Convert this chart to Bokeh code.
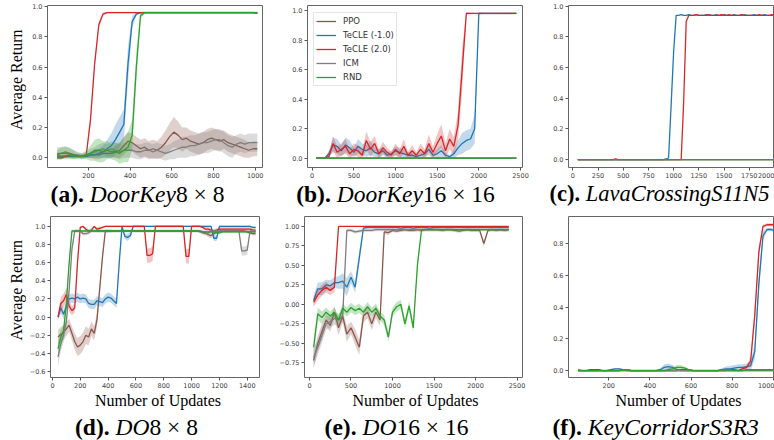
from bokeh.plotting import figure
from bokeh.layouts import row, column
from bokeh.models import Range1d, FixedTicker, CustomJSTickFormatter, Legend, LegendItem
from bokeh.core.properties import value
from bokeh.embed import file_html
from bokeh.resources import INLINE

SERIES = ["PPO", "TeCLE (-1.0)", "TeCLE (2.0)", "ICM", "RND"]
COLORS = ["#8c564b", "#1f77b4", "#d62728", "#7f7f7f", "#2ca02c"]

# ---------------- (a) DoorKey 8x8 ----------------
A_X = list(range(50, 1011, 20))
A_PPO = [0.01, 0.01, 0.01, 0.01, 0.01, 0.01, 0.01, 0.01, 0.02, 0.02,
         0.02, 0.03, 0.03, 0.03, 0.04, 0.05, 0.08, 0.11, 0.10, 0.08,
         0.06, 0.07, 0.05, 0.06, 0.05, 0.07, 0.10, 0.14, 0.17, 0.15,
         0.12, 0.13, 0.11, 0.10, 0.09, 0.10, 0.12, 0.13, 0.12, 0.11,
         0.12, 0.10, 0.09, 0.08, 0.07, 0.06, 0.05, 0.06, 0.06]
A_PPO_SD = [0.01, 0.01, 0.01, 0.01, 0.01, 0.01, 0.01, 0.01, 0.02, 0.03,
            0.03, 0.03, 0.03, 0.03, 0.04, 0.05, 0.06, 0.06, 0.06, 0.06,
            0.06, 0.06, 0.06, 0.06, 0.06, 0.07, 0.08, 0.09, 0.10, 0.09,
            0.08, 0.07, 0.07, 0.07, 0.07, 0.07, 0.07, 0.07, 0.07, 0.07,
            0.06, 0.06, 0.06, 0.06, 0.06, 0.06, 0.05, 0.05, 0.05]
A_TM1 = [0.01, 0.01, 0.01, 0.01, 0.01, 0.01, 0.01, 0.01, 0.02, 0.02,
         0.03, 0.04, 0.06, 0.08, 0.12, 0.17, 0.22, 0.62, 0.90, 0.95,
         0.96, 0.96, 0.96, 0.96, 0.96, 0.96, 0.96, 0.96, 0.96, 0.96,
         0.96, 0.96, 0.96, 0.96, 0.96, 0.96, 0.96, 0.96, 0.96, 0.96,
         0.96, 0.96, 0.96, 0.96, 0.96, 0.96, 0.96, 0.96, 0.955]
A_TM1_SD = [0.01, 0.01, 0.01, 0.01, 0.01, 0.01, 0.01, 0.01, 0.02, 0.02,
            0.03, 0.04, 0.06, 0.08, 0.10, 0.10, 0.10, 0.12, 0.04, 0.01,
            0.005, 0.005, 0.005, 0.005, 0.005, 0.005, 0.005, 0.005, 0.005, 0.005,
            0.005, 0.005, 0.005, 0.005, 0.005, 0.005, 0.005, 0.005, 0.005, 0.005,
            0.005, 0.005, 0.005, 0.005, 0.005, 0.005, 0.005, 0.005, 0.005]
A_T2 = [0.00, 0.00, 0.01, 0.02, 0.02, 0.01, 0.01, 0.02, 0.25, 0.62,
        0.88, 0.95, 0.96, 0.96, 0.96, 0.96, 0.96, 0.96, 0.96, 0.96,
        0.96, 0.96, 0.96, 0.96, 0.96, 0.96, 0.96, 0.96, 0.96, 0.96,
        0.96, 0.96, 0.96, 0.96, 0.96, 0.96, 0.96, 0.96, 0.96, 0.96,
        0.96, 0.96, 0.96, 0.96, 0.96, 0.96, 0.96, 0.96, 0.96]
A_T2_SD = [0.01, 0.01, 0.01, 0.01, 0.01, 0.01, 0.01, 0.01, 0.03, 0.03,
           0.02, 0.01, 0.005, 0.005, 0.005, 0.005, 0.005, 0.005, 0.005, 0.005,
           0.005, 0.005, 0.005, 0.005, 0.005, 0.005, 0.005, 0.005, 0.005, 0.005,
           0.005, 0.005, 0.005, 0.005, 0.005, 0.005, 0.005, 0.005, 0.005, 0.005,
           0.005, 0.005, 0.005, 0.005, 0.005, 0.005, 0.005, 0.005, 0.005]
A_ICM = [0.03, 0.03, 0.04, 0.03, 0.02, 0.02, 0.01, 0.02, 0.03, 0.04,
         0.05, 0.06, 0.05, 0.06, 0.05, 0.04, 0.05, 0.05, 0.05, 0.04,
         0.04, 0.05, 0.05, 0.04, 0.05, 0.04, 0.03, 0.04, 0.05, 0.06,
         0.07, 0.07, 0.08, 0.08, 0.09, 0.10, 0.10, 0.11, 0.12, 0.12,
         0.10, 0.08, 0.07, 0.09, 0.10, 0.09, 0.10, 0.10, 0.10]
A_ICM_SD = [0.04, 0.04, 0.04, 0.03, 0.03, 0.02, 0.02, 0.02, 0.03, 0.03,
            0.04, 0.04, 0.04, 0.05, 0.05, 0.05, 0.05, 0.05, 0.05, 0.05,
            0.05, 0.05, 0.05, 0.05, 0.05, 0.05, 0.05, 0.05, 0.06, 0.06,
            0.07, 0.07, 0.07, 0.07, 0.07, 0.07, 0.07, 0.07, 0.07, 0.07,
            0.07, 0.07, 0.07, 0.06, 0.06, 0.06, 0.06, 0.06, 0.06]
A_RND = [0.02, 0.03, 0.03, 0.03, 0.02, 0.01, 0.01, 0.02, 0.03, 0.05,
         0.05, 0.04, 0.05, 0.04, 0.04, 0.03, 0.05, 0.07, 0.15, 0.60,
         0.94, 0.96, 0.96, 0.96, 0.96, 0.96, 0.96, 0.96, 0.96, 0.96,
         0.96, 0.96, 0.96, 0.96, 0.96, 0.96, 0.96, 0.96, 0.96, 0.96,
         0.96, 0.96, 0.96, 0.96, 0.96, 0.96, 0.96, 0.96, 0.96]
A_RND_SD = [0.03, 0.04, 0.04, 0.04, 0.03, 0.02, 0.02, 0.03, 0.05, 0.07,
            0.08, 0.07, 0.06, 0.05, 0.06, 0.07, 0.08, 0.10, 0.10, 0.10,
            0.02, 0.005, 0.005, 0.005, 0.005, 0.005, 0.005, 0.005, 0.005, 0.005,
            0.005, 0.005, 0.005, 0.005, 0.005, 0.005, 0.005, 0.005, 0.005, 0.005,
            0.005, 0.005, 0.005, 0.005, 0.005, 0.005, 0.005, 0.005, 0.005]
A_XTICKS = [200, 400, 600, 800, 1000]
A_YTICKS = [0.0, 0.2, 0.4, 0.6, 0.8, 1.0]

# ---------------- (b) DoorKey 16x16 ----------------
B_X = list(range(50, 2451, 50))
B_PPO = [0, 0, 0, 0, 0, 0, 0, 0, 0, 0,
         0, 0, 0, 0, 0, 0, 0, 0, 0, 0,
         0, 0, 0, 0, 0, 0, 0, 0, 0, 0,
         0, 0, 0, 0, 0, 0, 0, 0, 0, 0,
         0, 0, 0, 0, 0, 0, 0, 0, 0]
B_TM1 = [0.00, 0.00, 0.00, 0.03, 0.09, 0.08, 0.05, 0.09, 0.07, 0.04,
         0.08, 0.06, 0.05, 0.07, 0.04, 0.03, 0.05, 0.02, 0.03, 0.05,
         0.04, 0.03, 0.02, 0.02, 0.01, 0.02, 0.03, 0.06, 0.02, 0.03,
         0.05, 0.02, 0.01, 0.03, 0.07, 0.10, 0.12, 0.13, 0.20, 0.98,
         0.98, 0.98, 0.98, 0.98, 0.98, 0.98, 0.98, 0.98, 0.98]
B_TM1_SD = [0.00, 0.00, 0.00, 0.02, 0.05, 0.05, 0.04, 0.05, 0.05, 0.03,
            0.05, 0.04, 0.04, 0.05, 0.03, 0.03, 0.03, 0.02, 0.02, 0.03,
            0.03, 0.03, 0.02, 0.02, 0.01, 0.02, 0.02, 0.04, 0.02, 0.03,
            0.04, 0.02, 0.01, 0.03, 0.05, 0.07, 0.07, 0.07, 0.10, 0.01,
            0.005, 0.005, 0.005, 0.005, 0.005, 0.005, 0.005, 0.005, 0.005]
B_T2 = [0.00, 0.00, 0.00, 0.01, 0.10, 0.04, 0.06, 0.08, 0.03, 0.06,
        0.05, 0.02, 0.12, 0.06, 0.10, 0.03, 0.07, 0.04, 0.02, 0.06,
        0.03, 0.08, 0.02, 0.05, 0.02, 0.06, 0.03, 0.10, 0.04, 0.10,
        0.15, 0.05, 0.13, 0.08, 0.22, 0.60, 0.98, 0.98, 0.98, 0.98,
        0.98, 0.98, 0.98, 0.98, 0.98, 0.98, 0.98, 0.98, 0.98]
B_T2_SD = [0.00, 0.00, 0.00, 0.01, 0.05, 0.04, 0.04, 0.05, 0.03, 0.04,
           0.04, 0.03, 0.06, 0.05, 0.05, 0.03, 0.04, 0.03, 0.02, 0.04,
           0.03, 0.05, 0.02, 0.04, 0.02, 0.04, 0.03, 0.06, 0.04, 0.06,
           0.08, 0.05, 0.07, 0.06, 0.10, 0.15, 0.01, 0.005, 0.005, 0.005,
           0.005, 0.005, 0.005, 0.005, 0.005, 0.005, 0.005, 0.005, 0.005]
B_ICM = [0, 0, 0, 0, 0, 0, 0, 0, 0, 0,
         0, 0, 0, 0, 0, 0, 0, 0, 0, 0,
         0, 0, 0, 0, 0, 0, 0, 0, 0, 0,
         0, 0, 0, 0, 0, 0, 0, 0, 0, 0,
         0, 0, 0, 0, 0, 0, 0, 0, 0]
B_RND = [0, 0, 0, 0, 0, 0, 0, 0, 0, 0,
         0, 0, 0, 0, 0, 0, 0, 0, 0, 0,
         0, 0, 0, 0, 0, 0, 0, 0, 0, 0,
         0, 0, 0, 0, 0, 0, 0, 0, 0, 0,
         0, 0, 0, 0, 0, 0, 0, 0, 0]
B_XTICKS = [0, 500, 1000, 1500, 2000, 2500]
B_YTICKS = [0.0, 0.2, 0.4, 0.6, 0.8, 1.0]

# ---------------- (c) LavaCrossing S11N5 ----------------
C_X = list(range(50, 2051, 25))
C_PPO = [0, 0, 0, 0, 0, 0, 0, 0, 0, 0,
         0, 0, 0, 0, 0, 0, 0, 0, 0, 0,
         0, 0, 0, 0, 0, 0, 0, 0, 0, 0,
         0, 0, 0, 0, 0, 0, 0, 0, 0, 0,
         0, 0, 0, 0, 0, 0, 0, 0, 0, 0,
         0, 0, 0, 0, 0, 0, 0, 0, 0, 0,
         0, 0, 0, 0, 0, 0, 0, 0, 0, 0,
         0, 0, 0, 0, 0, 0, 0, 0, 0, 0,
         0]
C_TM1 = [0, 0, 0, 0, 0, 0, 0, 0, 0, 0,
         0, 0, 0, 0, 0, 0, 0, 0, 0, 0,
         0, 0, 0, 0, 0, 0, 0, 0, 0, 0,
         0, 0, 0, 0, 0, 0.005, 0.01, 0.35, 0.70, 0.94,
         0.94, 0.945, 0.94, 0.94, 0.945, 0.94, 0.94, 0.945, 0.94, 0.94,
         0.94, 0.945, 0.94, 0.94, 0.94, 0.945, 0.94, 0.94, 0.945, 0.94,
         0.94, 0.94, 0.945, 0.94, 0.94, 0.94, 0.945, 0.94, 0.94, 0.94,
         0.945, 0.94, 0.94, 0.94, 0.945, 0.94, 0.94, 0.94, 0.94, 0.94,
         0.94]
C_T2 = [0, 0, 0, 0, 0, 0, 0, 0, 0, 0,
        0, 0, 0, 0, 0, 0.005, 0, 0, 0, 0,
        0, 0, 0, 0, 0, 0, 0, 0, 0, 0,
        0, 0, 0, 0, 0, 0, 0, 0, 0, 0,
        0, 0, 0.38, 0.90, 0.94, 0.94, 0.94, 0.945, 0.94, 0.94,
        0.94, 0.94, 0.945, 0.94, 0.94, 0.94, 0.94, 0.945, 0.94, 0.94,
        0.945, 0.94, 0.94, 0.94, 0.94, 0.945, 0.94, 0.94, 0.94, 0.94,
        0.94, 0.94, 0.945, 0.94, 0.94, 0.94, 0.94, 0.945, 0.94, 0.94,
        0.94]
C_ICM = [0, 0, 0, 0, 0, 0, 0, 0, 0, 0,
         0, 0, 0, 0, 0, 0, 0, 0, 0, 0,
         0, 0, 0, 0, 0, 0, 0, 0, 0, 0,
         0, 0, 0, 0, 0, 0, 0, 0, 0, 0,
         0, 0, 0, 0, 0, 0, 0, 0, 0, 0,
         0, 0, 0, 0, 0, 0, 0, 0, 0, 0,
         0, 0, 0, 0, 0, 0, 0, 0, 0, 0,
         0, 0, 0, 0, 0, 0, 0, 0, 0, 0,
         0]
C_RND = [0, 0, 0, 0, 0, 0, 0, 0, 0, 0,
         0, 0, 0, 0, 0, 0, 0, 0, 0, 0,
         0, 0, 0, 0, 0, 0, 0, 0, 0, 0,
         0, 0, 0, 0, 0, 0, 0, 0, 0, 0,
         0, 0, 0, 0, 0, 0, 0, 0, 0, 0,
         0, 0, 0, 0, 0, 0, 0, 0, 0, 0,
         0, 0, 0, 0, 0, 0, 0, 0, 0, 0,
         0, 0, 0, 0, 0, 0, 0, 0, 0, 0,
         0]
C_XTICKS = [0, 250, 500, 750, 1000, 1250, 1500, 1750, 2000]
C_YTICKS = [0.0, 0.2, 0.4, 0.6, 0.8, 1.0]

# ---------------- (d) DO 8x8 ----------------
D_X = list(range(40, 1461, 20))
D_PPO = [-0.22, -0.19, -0.17, -0.13, -0.09, -0.18, -0.27, -0.33, -0.31, -0.27,
         -0.20, -0.22, -0.13, -0.18, -0.03, 0.32, 0.67, 0.95, 0.95, 0.95,
         0.95, 0.95, 0.95, 0.95, 0.95, 0.95, 0.95, 0.95, 0.95, 0.95,
         0.95, 0.95, 0.95, 0.95, 0.95, 0.95, 0.95, 0.95, 0.95, 0.95,
         0.95, 0.95, 0.95, 0.95, 0.95, 0.95, 0.95, 0.95, 0.95, 0.95,
         0.95, 0.95, 0.94, 0.93, 0.91, 0.90, 0.92, 0.94, 0.95, 0.95,
         0.95, 0.95, 0.95, 0.95, 0.95, 0.95, 0.95, 0.95, 0.94, 0.93,
         0.92, 0.92]
D_PPO_SD = [0.08, 0.08, 0.08, 0.08, 0.07, 0.08, 0.09, 0.10, 0.10, 0.10,
            0.10, 0.09, 0.08, 0.08, 0.08, 0.06, 0.05, 0.02, 0.015, 0.015,
            0.015, 0.015, 0.015, 0.015, 0.015, 0.015, 0.015, 0.015, 0.015, 0.015,
            0.015, 0.015, 0.015, 0.015, 0.015, 0.015, 0.015, 0.015, 0.015, 0.015,
            0.015, 0.015, 0.015, 0.015, 0.015, 0.015, 0.015, 0.015, 0.015, 0.015,
            0.015, 0.015, 0.02, 0.02, 0.03, 0.03, 0.03, 0.02, 0.015, 0.015,
            0.015, 0.015, 0.015, 0.015, 0.015, 0.015, 0.015, 0.015, 0.02, 0.02,
            0.02, 0.02]
D_TM1 = [0.00, 0.10, 0.03, 0.12, 0.20, 0.21, 0.20, 0.22, 0.20, 0.21,
         0.20, 0.15, 0.14, 0.14, 0.18, 0.17, 0.16, 0.20, 0.22, 0.21,
         0.18, 0.15, 0.60, 1.00, 0.89, 0.88, 0.90, 1.00, 1.00, 1.00,
         1.00, 1.00, 1.00, 1.00, 1.00, 1.00, 1.00, 1.00, 1.00, 1.00,
         1.00, 1.00, 1.00, 1.00, 1.00, 1.00, 1.00, 1.00, 1.00, 1.00,
         1.00, 1.00, 1.00, 1.00, 1.00, 1.00, 0.87, 0.87, 1.00, 1.00,
         1.00, 1.00, 1.00, 1.00, 1.00, 1.00, 1.00, 1.00, 1.00, 1.00,
         0.99, 0.99]
D_TM1_SD = [0.03, 0.06, 0.05, 0.05, 0.05, 0.05, 0.05, 0.05, 0.05, 0.05,
            0.05, 0.05, 0.05, 0.05, 0.05, 0.05, 0.05, 0.05, 0.05, 0.05,
            0.05, 0.05, 0.05, 0.01, 0.03, 0.04, 0.03, 0.01, 0.01, 0.01,
            0.01, 0.01, 0.01, 0.01, 0.01, 0.01, 0.01, 0.01, 0.01, 0.01,
            0.01, 0.01, 0.01, 0.01, 0.01, 0.01, 0.01, 0.01, 0.01, 0.01,
            0.01, 0.01, 0.01, 0.01, 0.01, 0.01, 0.03, 0.03, 0.01, 0.01,
            0.01, 0.01, 0.01, 0.01, 0.01, 0.01, 0.01, 0.01, 0.01, 0.01,
            0.01, 0.01]
D_T2 = [0.00, 0.15, 0.18, 0.25, 0.12, 0.07, 0.10, 0.60, 0.99, 1.00,
        0.97, 0.95, 0.96, 1.00, 0.97, 0.98, 0.99, 1.00, 1.00, 1.00,
        1.00, 1.00, 1.00, 1.00, 1.00, 1.00, 1.00, 1.00, 1.00, 1.00,
        1.00, 1.00, 0.68, 0.68, 0.70, 1.00, 1.00, 1.00, 1.00, 1.00,
        1.00, 1.00, 1.00, 1.00, 1.00, 1.00, 0.67, 0.67, 1.00, 1.00,
        1.00, 1.00, 0.99, 0.97, 0.97, 0.96, 0.95, 0.96, 0.97, 0.97,
        0.97, 0.97, 0.97, 0.97, 0.97, 0.97, 0.97, 0.97, 0.97, 0.97,
        0.96, 0.96]
D_T2_SD = [0.03, 0.07, 0.08, 0.07, 0.06, 0.05, 0.05, 0.05, 0.01, 0.01,
           0.02, 0.02, 0.02, 0.01, 0.02, 0.02, 0.01, 0.01, 0.01, 0.01,
           0.01, 0.01, 0.01, 0.01, 0.01, 0.01, 0.01, 0.01, 0.01, 0.01,
           0.01, 0.01, 0.08, 0.08, 0.08, 0.01, 0.01, 0.01, 0.01, 0.01,
           0.01, 0.01, 0.01, 0.01, 0.01, 0.01, 0.08, 0.08, 0.01, 0.01,
           0.01, 0.01, 0.01, 0.02, 0.02, 0.02, 0.02, 0.02, 0.02, 0.02,
           0.02, 0.02, 0.02, 0.02, 0.02, 0.02, 0.02, 0.02, 0.02, 0.02,
           0.02, 0.03]
D_ICM = [-0.44, -0.30, -0.20, -0.05, 0.30, 0.75, 0.95, 0.95, 0.95, 0.92,
         0.92, 0.93, 0.95, 0.95, 0.95, 0.95, 0.95, 0.95, 0.95, 0.95,
         0.95, 0.95, 0.95, 0.95, 0.95, 0.95, 0.95, 0.95, 0.95, 0.95,
         0.95, 0.95, 0.95, 0.95, 0.95, 0.95, 0.95, 0.95, 0.95, 0.95,
         0.95, 0.95, 0.95, 0.95, 0.95, 0.95, 0.95, 0.95, 0.95, 0.95,
         0.95, 0.94, 0.93, 0.92, 0.93, 0.95, 0.95, 0.95, 0.95, 0.95,
         0.95, 0.95, 0.95, 0.95, 0.95, 0.95, 0.73, 0.73, 0.74, 0.95,
         0.95, 0.95]
D_ICM_SD = [0.10, 0.08, 0.08, 0.06, 0.05, 0.04, 0.02, 0.02, 0.02, 0.02,
            0.02, 0.02, 0.02, 0.02, 0.02, 0.02, 0.02, 0.02, 0.02, 0.02,
            0.015, 0.015, 0.015, 0.015, 0.015, 0.015, 0.015, 0.015, 0.015, 0.015,
            0.015, 0.015, 0.015, 0.015, 0.015, 0.015, 0.015, 0.015, 0.015, 0.015,
            0.015, 0.015, 0.015, 0.015, 0.015, 0.015, 0.015, 0.015, 0.015, 0.015,
            0.015, 0.015, 0.02, 0.02, 0.02, 0.015, 0.015, 0.015, 0.015, 0.015,
            0.015, 0.015, 0.015, 0.015, 0.015, 0.015, 0.05, 0.05, 0.05, 0.015,
            0.015, 0.015]
D_RND = [-0.35, -0.22, -0.15, 0.15, 0.60, 0.95, 0.95, 0.95, 0.95, 0.95,
         0.95, 0.95, 0.95, 0.95, 0.95, 0.95, 0.95, 0.95, 0.95, 0.95,
         0.95, 0.95, 0.95, 0.95, 0.95, 0.95, 0.95, 0.95, 0.95, 0.95,
         0.95, 0.95, 0.95, 0.95, 0.95, 0.95, 0.95, 0.95, 0.95, 0.95,
         0.95, 0.95, 0.95, 0.95, 0.95, 0.95, 0.95, 0.95, 0.95, 0.95,
         0.95, 0.95, 0.94, 0.94, 0.94, 0.94, 0.94, 0.93, 0.93, 0.94,
         0.94, 0.94, 0.94, 0.94, 0.94, 0.94, 0.94, 0.94, 0.94, 0.94,
         0.94, 0.94]
D_RND_SD = [0.08, 0.08, 0.06, 0.05, 0.04, 0.02, 0.01, 0.01, 0.01, 0.01,
            0.01, 0.01, 0.01, 0.01, 0.01, 0.01, 0.01, 0.01, 0.01, 0.01,
            0.01, 0.01, 0.01, 0.01, 0.01, 0.01, 0.01, 0.01, 0.01, 0.01,
            0.01, 0.01, 0.01, 0.01, 0.01, 0.01, 0.01, 0.01, 0.01, 0.01,
            0.01, 0.01, 0.01, 0.01, 0.01, 0.01, 0.01, 0.01, 0.01, 0.01,
            0.01, 0.01, 0.01, 0.01, 0.01, 0.01, 0.01, 0.01, 0.01, 0.01,
            0.01, 0.01, 0.01, 0.01, 0.01, 0.01, 0.01, 0.01, 0.01, 0.01,
            0.01, 0.01]
D_XTICKS = [0, 200, 400, 600, 800, 1000, 1200, 1400]
D_YTICKS = [-0.6, -0.4, -0.2, 0.0, 0.2, 0.4, 0.6, 0.8, 1.0]

# ---------------- (e) DO 16x16 ----------------
E_X = list(range(50, 2401, 50))
E_PPO = [-0.72, -0.50, -0.35, -0.20, -0.27, -0.10, -0.30, -0.15, -0.38, -0.30,
         -0.42, -0.55, -0.15, -0.10, -0.25, -0.10, -0.20, 0.93, 0.92, 0.95,
         0.94, 0.95, 0.96, 0.95, 0.95, 0.96, 0.95, 0.96, 0.96, 0.96,
         0.96, 0.95, 0.96, 0.96, 0.95, 0.94, 0.95, 0.96, 0.95, 0.95,
         0.95, 0.78, 0.95, 0.96, 0.95, 0.96, 0.95, 0.96]
E_PPO_SD = [0.10, 0.10, 0.10, 0.08, 0.08, 0.08, 0.10, 0.08, 0.10, 0.08,
            0.10, 0.10, 0.08, 0.08, 0.08, 0.08, 0.08, 0.03, 0.03, 0.02,
            0.02, 0.02, 0.02, 0.02, 0.02, 0.02, 0.02, 0.02, 0.02, 0.02,
            0.02, 0.02, 0.02, 0.02, 0.02, 0.02, 0.02, 0.02, 0.02, 0.02,
            0.02, 0.04, 0.02, 0.02, 0.02, 0.02, 0.02, 0.02]
E_TM1 = [0.05, 0.20, 0.20, 0.25, 0.24, 0.28, 0.28, 0.30, 0.22, 0.35,
         0.22, 0.60, 0.98, 0.99, 0.99, 0.99, 0.99, 0.99, 0.99, 0.99,
         0.99, 0.98, 0.99, 0.99, 0.98, 0.99, 0.99, 0.99, 0.98, 0.99,
         0.99, 0.99, 0.99, 0.99, 0.99, 0.99, 0.99, 0.99, 0.99, 0.99,
         0.99, 0.99, 0.99, 0.99, 0.99, 0.99, 0.99, 0.99]
E_TM1_SD = [0.06, 0.08, 0.08, 0.07, 0.07, 0.07, 0.08, 0.10, 0.12, 0.08,
            0.07, 0.08, 0.02, 0.02, 0.02, 0.02, 0.02, 0.02, 0.02, 0.02,
            0.015, 0.015, 0.015, 0.015, 0.015, 0.015, 0.015, 0.015, 0.015, 0.015,
            0.015, 0.015, 0.015, 0.015, 0.015, 0.015, 0.015, 0.015, 0.015, 0.015,
            0.015, 0.015, 0.015, 0.015, 0.015, 0.015, 0.015, 0.015]
E_T2 = [0.03, 0.12, 0.18, 0.22, 0.18, 0.22, 1.00, 1.00, 1.00, 1.00,
        1.00, 1.00, 1.00, 1.00, 1.00, 1.00, 1.00, 1.00, 1.00, 1.00,
        1.00, 1.00, 1.00, 1.00, 1.00, 1.00, 1.00, 1.00, 1.00, 1.00,
        1.00, 1.00, 1.00, 1.00, 1.00, 1.00, 1.00, 1.00, 1.00, 1.00,
        1.00, 1.00, 1.00, 1.00, 1.00, 1.00, 1.00, 1.00]
E_T2_SD = [0.06, 0.07, 0.07, 0.07, 0.06, 0.06, 0.005, 0.005, 0.005, 0.005,
           0.005, 0.005, 0.005, 0.005, 0.005, 0.005, 0.005, 0.005, 0.005, 0.005,
           0.005, 0.005, 0.005, 0.005, 0.005, 0.005, 0.005, 0.005, 0.005, 0.005,
           0.005, 0.005, 0.005, 0.005, 0.005, 0.005, 0.005, 0.005, 0.005, 0.005,
           0.005, 0.005, 0.005, 0.005, 0.005, 0.005, 0.005, 0.005]
E_ICM = [-0.68, -0.55, -0.40, -0.25, -0.22, -0.18, -0.20, -0.15, 0.95, 0.95,
         0.93, 0.94, 0.95, 0.95, 0.95, 0.96, 0.96, 0.96, 0.96, 0.96,
         0.96, 0.96, 0.96, 0.96, 0.96, 0.96, 0.96, 0.96, 0.96, 0.96,
         0.96, 0.96, 0.96, 0.96, 0.96, 0.96, 0.96, 0.96, 0.96, 0.96,
         0.96, 0.96, 0.96, 0.96, 0.96, 0.96, 0.96, 0.96]
E_ICM_SD = [0.12, 0.10, 0.10, 0.08, 0.08, 0.08, 0.08, 0.08, 0.02, 0.02,
            0.02, 0.02, 0.02, 0.02, 0.02, 0.02, 0.02, 0.02, 0.02, 0.02,
            0.02, 0.02, 0.02, 0.02, 0.02, 0.02, 0.02, 0.02, 0.02, 0.02,
            0.02, 0.02, 0.02, 0.02, 0.02, 0.02, 0.02, 0.02, 0.02, 0.02,
            0.02, 0.02, 0.02, 0.02, 0.02, 0.02, 0.02, 0.02]
E_RND = [-0.55, -0.12, -0.17, -0.10, -0.15, -0.10, -0.20, -0.05, -0.10, -0.04,
         -0.08, -0.05, -0.10, -0.03, -0.10, -0.05, -0.15, -0.20, -0.42, -0.10,
         -0.03, 0.00, -0.25, -0.02, -0.30, 0.50, 0.96, 0.96, 0.96, 0.96,
         0.96, 0.96, 0.96, 0.96, 0.96, 0.96, 0.96, 0.96, 0.96, 0.96,
         0.96, 0.96, 0.96, 0.96, 0.96, 0.96, 0.96, 0.96]
E_RND_SD = [0.10, 0.08, 0.08, 0.06, 0.06, 0.06, 0.06, 0.06, 0.06, 0.06,
            0.06, 0.06, 0.06, 0.06, 0.06, 0.06, 0.06, 0.06, 0.06, 0.06,
            0.06, 0.06, 0.06, 0.06, 0.06, 0.05, 0.01, 0.01, 0.01, 0.01,
            0.01, 0.01, 0.01, 0.01, 0.01, 0.01, 0.01, 0.01, 0.01, 0.01,
            0.01, 0.01, 0.01, 0.01, 0.01, 0.01, 0.01, 0.01]
E_XTICKS = [0, 500, 1000, 1500, 2000, 2500]
E_YTICKS = [-0.75, -0.5, -0.25, 0.0, 0.25, 0.5, 0.75, 1.0]

# ---------------- (f) KeyCorridor S3R3 ----------------
F_X = list(range(50, 1011, 20))
F_PPO = [0, 0, 0, 0, 0, 0, 0, 0, 0, 0,
         0, 0, 0, 0, 0, 0, 0, 0, 0, 0,
         0, 0, 0, 0, 0, 0, 0, 0, 0, 0,
         0, 0, 0, 0, 0, 0, 0, 0, 0, 0,
         0, 0, 0, 0, 0, 0, 0, 0, 0]
F_TM1 = [0.00, 0.00, 0.00, 0.00, 0.00, 0.00, 0.00, 0.00, 0.005, 0.01,
         0.01, 0.005, 0.00, 0.00, 0.00, 0.00, 0.00, 0.00, 0.00, 0.00,
         0.005, 0.02, 0.025, 0.02, 0.005, 0.00, 0.00, 0.00, 0.00, 0.00,
         0.00, 0.00, 0.00, 0.00, 0.00, 0.005, 0.01, 0.01, 0.015, 0.02,
         0.02, 0.025, 0.03, 0.12, 0.55, 0.85, 0.89, 0.89, 0.88]
F_TM1_SD = [0.005, 0.005, 0.005, 0.005, 0.005, 0.005, 0.005, 0.005, 0.005, 0.005,
            0.005, 0.005, 0.005, 0.005, 0.005, 0.005, 0.005, 0.005, 0.005, 0.005,
            0.01, 0.02, 0.02, 0.015, 0.01, 0.005, 0.005, 0.005, 0.005, 0.005,
            0.005, 0.005, 0.005, 0.005, 0.005, 0.01, 0.015, 0.02, 0.02, 0.02,
            0.02, 0.02, 0.03, 0.05, 0.06, 0.03, 0.01, 0.01, 0.01]
F_T2 = [0.00, 0.00, 0.00, 0.005, 0.005, 0.005, 0.00, 0.00, 0.00, 0.00,
        0.00, 0.005, 0.005, 0.00, 0.00, 0.00, 0.00, 0.00, 0.00, 0.00,
        0.00, 0.00, 0.00, 0.00, 0.00, 0.005, 0.005, 0.005, 0.00, 0.00,
        0.00, 0.00, 0.00, 0.00, 0.00, 0.00, 0.00, 0.005, 0.005, 0.00,
        0.01, 0.02, 0.06, 0.35, 0.75, 0.91, 0.92, 0.92, 0.92]
F_T2_SD = [0.005, 0.005, 0.005, 0.005, 0.005, 0.005, 0.005, 0.005, 0.005, 0.005,
           0.005, 0.005, 0.005, 0.005, 0.005, 0.005, 0.005, 0.005, 0.005, 0.005,
           0.005, 0.005, 0.005, 0.005, 0.005, 0.005, 0.005, 0.005, 0.005, 0.005,
           0.005, 0.005, 0.005, 0.005, 0.005, 0.005, 0.005, 0.005, 0.005, 0.005,
           0.01, 0.01, 0.03, 0.05, 0.04, 0.01, 0.01, 0.01, 0.01]
F_ICM = [0, 0, 0, 0, 0, 0, 0, 0, 0, 0,
         0, 0, 0, 0, 0, 0, 0, 0, 0, 0,
         0, 0, 0, 0, 0, 0, 0, 0, 0, 0,
         0, 0, 0, 0, 0, 0, 0, 0, 0, 0,
         0, 0, 0, 0, 0, 0, 0, 0, 0]
F_RND = [0.005, 0.00, 0.00, 0.00, 0.00, 0.00, 0.00, 0.00, 0.00, 0.00,
         0.00, 0.005, 0.005, 0.00, 0.00, 0.00, 0.00, 0.00, 0.00, 0.00,
         0.00, 0.00, 0.005, 0.01, 0.02, 0.02, 0.015, 0.005, 0.00, 0.00,
         0.00, 0.00, 0.00, 0.00, 0.00, 0.005, 0.005, 0.005, 0.00, 0.00,
         0.00, 0.005, 0.005, 0.005, 0.005, 0.005, 0.005, 0.005, 0.005]
F_RND_SD = [0.005, 0.005, 0.005, 0.005, 0.005, 0.005, 0.005, 0.005, 0.005, 0.005,
            0.005, 0.005, 0.005, 0.005, 0.005, 0.005, 0.005, 0.005, 0.005, 0.005,
            0.005, 0.005, 0.01, 0.01, 0.015, 0.015, 0.01, 0.005, 0.005, 0.005,
            0.005, 0.005, 0.005, 0.005, 0.005, 0.005, 0.005, 0.005, 0.005, 0.005,
            0.005, 0.005, 0.005, 0.005, 0.005, 0.005, 0.005, 0.005, 0.005]
F_XTICKS = [200, 400, 600, 800, 1000]
F_YTICKS = [0.0, 0.2, 0.4, 0.6, 0.8]

# ---------------- text ----------------
Y_TITLE = "Average Return"
X_TITLE = "Number of Updates"
CAPTIONS = {
    "a": [("(a).", "bold"), ("DoorKey", "italic"), ("8 \u00d7 8", "normal")],
    "b": [("(b).", "bold"), ("DoorKey", "italic"), ("16 \u00d7 16", "normal")],
    "c": [("(c).", "bold"), ("LavaCrossingS11N5", "italic")],
    "d": [("(d).", "bold"), ("DO", "italic"), ("8 \u00d7 8", "normal")],
    "e": [("(e).", "bold"), ("DO", "italic"), ("16 \u00d7 16", "normal")],
    "f": [("(f).", "bold"), ("KeyCorridorS3R3", "italic")],
}

# ---------------- geometry (pixels) ----------------
PANEL_H = 180
GEOM = {
    "a": dict(w=244, bl=21, br=8, bt=5, bb=13, xr=(4, 1035), yr=(-0.064, 1.007)),
    "b": dict(w=260, bl=37, br=8, bt=5, bb=13, xr=(-56, 2524), yr=(-0.063, 1.034)),
    "c": dict(w=244, bl=38, br=0, bt=5, bb=13, xr=(-43, 2001), yr=(-0.052, 1.005)),
    "d": dict(w=244, bl=22, br=11, bt=6, bb=13, xr=(-14, 1488), yr=(-0.667, 1.11)),
    "e": dict(w=260, bl=34, br=8, bt=6, bb=13, xr=(-60, 2566), yr=(-0.938, 1.128)),
    "f": dict(w=244, bl=38, br=0, bt=6, bb=13, xr=(4, 1006), yr=(-0.044, 0.972)),
}
SERIF = "Liberation Serif"
MID = 0.3375   # distance baseline -> em-box middle, in font sizes
W_BOLD = {"(": 0.333, ")": 0.333, ".": 0.25, "a": 0.5, "b": 0.556, "c": 0.444,
          "d": 0.556, "e": 0.444, "f": 0.333}
W_ITAL = {"D": 0.722, "o": 0.5, "r": 0.389, "K": 0.667, "e": 0.444, "y": 0.444,
          "O": 0.722, "L": 0.556, "a": 0.5, "v": 0.444, "C": 0.667, "s": 0.389,
          "i": 0.278, "n": 0.5, "g": 0.5, "S": 0.5, "1": 0.5, "N": 0.667, "5": 0.5,
          "d": 0.5, "R": 0.611, "3": 0.5}
W_REG = {"8": 0.5, "1": 0.5, "6": 0.5, "\u00d7": 0.564, " ": 0.25}


def yfmt(dec):
    return CustomJSTickFormatter(args=dict(d=dec), code="""
        const s = Math.abs(tick).toFixed(d);
        return (tick < -1e-9 ? '\u2212' : '') + s;
    """)


def strip(w, h):
    s = figure(width=w, height=h, x_range=Range1d(0, w), y_range=Range1d(0, h),
               output_backend="svg", toolbar_location=None, title=None,
               x_axis_location=None, y_axis_location=None, min_border=0)
    s.outline_line_color = None
    s.grid.visible = False
    s.background_fill_color = "white"
    s.border_fill_color = "white"
    return s


def put(s, h, x, baseline_from_top, text, size, style="normal", align="left", rotated=False):
    # text is anchored at its em-box middle; convert from the wanted baseline
    if rotated:
        xx, yy, ang = x - MID * size, h - baseline_from_top, 1.5708
    else:
        xx, yy, ang = x, h - (baseline_from_top - MID * size), 0.0
    s.text(x=[xx], y=[yy], text=[text], text_font=value(SERIF),
           text_font_size=value(f"{size}px"), text_font_style=value(style),
           text_align=value(align), text_baseline=value("middle"),
           angle=ang, text_color="#000000")


def caption(s, h, pieces, x, baseline_from_top, align, size=23.5):
    tables = {"bold": W_BOLD, "italic": W_ITAL, "normal": W_REG}
    widths = [sum(tables[st].get(ch, 0.5) for ch in txt) * size for txt, st in pieces]
    gap = 0.25 * size
    total = sum(widths) + gap
    cur = x - total / 2 if align == "center" else x
    for i, (txt, st) in enumerate(pieces):
        put(s, h, cur, baseline_from_top, txt, size, style=st)
        cur += widths[i] + (gap if i == 0 else 0)


def panel(key, xs, ys, sds, xticks, yticks, ydec):
    g = GEOM[key]
    p = figure(width=g["w"], height=PANEL_H, x_range=Range1d(*g["xr"]), y_range=Range1d(*g["yr"]),
               output_backend="svg", toolbar_location=None, title=None,
               min_border_left=g["bl"], min_border_right=g["br"],
               min_border_top=g["bt"], min_border_bottom=g["bb"])
    p.grid.visible = False
    p.outline_line_color = "#666666"
    p.outline_line_width = 1
    p.background_fill_color = "white"
    p.border_fill_color = "white"
    for ax in (p.xaxis[0], p.yaxis[0]):
        ax.axis_line_color = None
        ax.major_tick_line_color = "#555555"
        ax.major_tick_out = 3
        ax.major_tick_in = 0
        ax.minor_tick_line_color = None
        ax.major_label_text_font = "DejaVu Sans"
        ax.major_label_text_font_size = "6.5px"
        ax.major_label_text_color = "#444444"
        ax.major_label_standoff = 2
    p.xaxis.ticker = FixedTicker(ticks=xticks)
    p.yaxis.ticker = FixedTicker(ticks=yticks)
    p.yaxis.formatter = yfmt(ydec)
    rends = []
    for color, y, sd in zip(COLORS, ys, sds):
        if sd is not None:
            lo = [a - b for a, b in zip(y, sd)]
            hi = [a + b for a, b in zip(y, sd)]
            p.varea(x=xs, y1=lo, y2=hi, fill_color=color, fill_alpha=0.28)
        rends.append(p.line(xs, y, line_color=color, line_width=1.3))
    return p, rends


pa, _ = panel("a", A_X, [A_PPO, A_TM1, A_T2, A_ICM, A_RND],
              [A_PPO_SD, A_TM1_SD, A_T2_SD, A_ICM_SD, A_RND_SD], A_XTICKS, A_YTICKS, 1)
pb, rb = panel("b", B_X, [B_PPO, B_TM1, B_T2, B_ICM, B_RND],
               [None, B_TM1_SD, B_T2_SD, None, None], B_XTICKS, B_YTICKS, 1)
pc, _ = panel("c", C_X, [C_PPO, C_TM1, C_T2, C_ICM, C_RND],
              [None, None, None, None, None], C_XTICKS, C_YTICKS, 1)
pd_, _ = panel("d", D_X, [D_PPO, D_TM1, D_T2, D_ICM, D_RND],
               [D_PPO_SD, D_TM1_SD, D_T2_SD, D_ICM_SD, D_RND_SD], D_XTICKS, D_YTICKS, 1)
pe, _ = panel("e", E_X, [E_PPO, E_TM1, E_T2, E_ICM, E_RND],
              [E_PPO_SD, E_TM1_SD, E_T2_SD, E_ICM_SD, E_RND_SD], E_XTICKS, E_YTICKS, 2)
pf, _ = panel("f", F_X, [F_PPO, F_TM1, F_T2, F_ICM, F_RND],
              [None, F_TM1_SD, F_T2_SD, None, F_RND_SD], F_XTICKS, F_YTICKS, 1)

legend = Legend(items=[LegendItem(label=n, renderers=[r]) for n, r in zip(SERIES, rb)],
                location=(6, 81), orientation="vertical",
                label_text_font="DejaVu Sans", label_text_font_size="8.5px",
                label_text_color="#333333", glyph_width=20, glyph_height=12,
                label_height=12, spacing=2, padding=2, margin=0, label_standoff=7,
                border_line_color="#cccccc", border_line_width=1,
                background_fill_color="white", background_fill_alpha=0.85)
pb.add_layout(legend)

# y-title strips (left), caption strips (below each row)
ylab1 = strip(26, PANEL_H)
put(ylab1, PANEL_H, 21, 82.5, Y_TITLE, 16, align="center", rotated=True)
ylab2 = strip(26, PANEL_H)
put(ylab2, PANEL_H, 21, 82.5, Y_TITLE, 16, align="center", rotated=True)

CAP1_H = 30
cap1 = strip(774, CAP1_H)
caption(cap1, CAP1_H, CAPTIONS["a"], 137, 21, "center")
caption(cap1, CAP1_H, CAPTIONS["b"], 395, 21, "center")
caption(cap1, CAP1_H, CAPTIONS["c"], 549, 21, "left", size=22.5)

CAP2_H = 50
cap2 = strip(774, CAP2_H)
put(cap2, CAP2_H, 157.5, 15, X_TITLE, 16, align="center")
put(cap2, CAP2_H, 415, 15, X_TITLE, 16, align="center")
put(cap2, CAP2_H, 678, 15, X_TITLE, 16, align="center")
caption(cap2, CAP2_H, CAPTIONS["d"], 136, 44.5, "center")
caption(cap2, CAP2_H, CAPTIONS["e"], 396, 44.5, "center")
caption(cap2, CAP2_H, CAPTIONS["f"], 552, 44.5, "left")

layout = column(row(ylab1, pa, pb, pc), cap1, row(ylab2, pd_, pe, pf), cap2)
open("out.html", "w").write(file_html(layout, INLINE))
